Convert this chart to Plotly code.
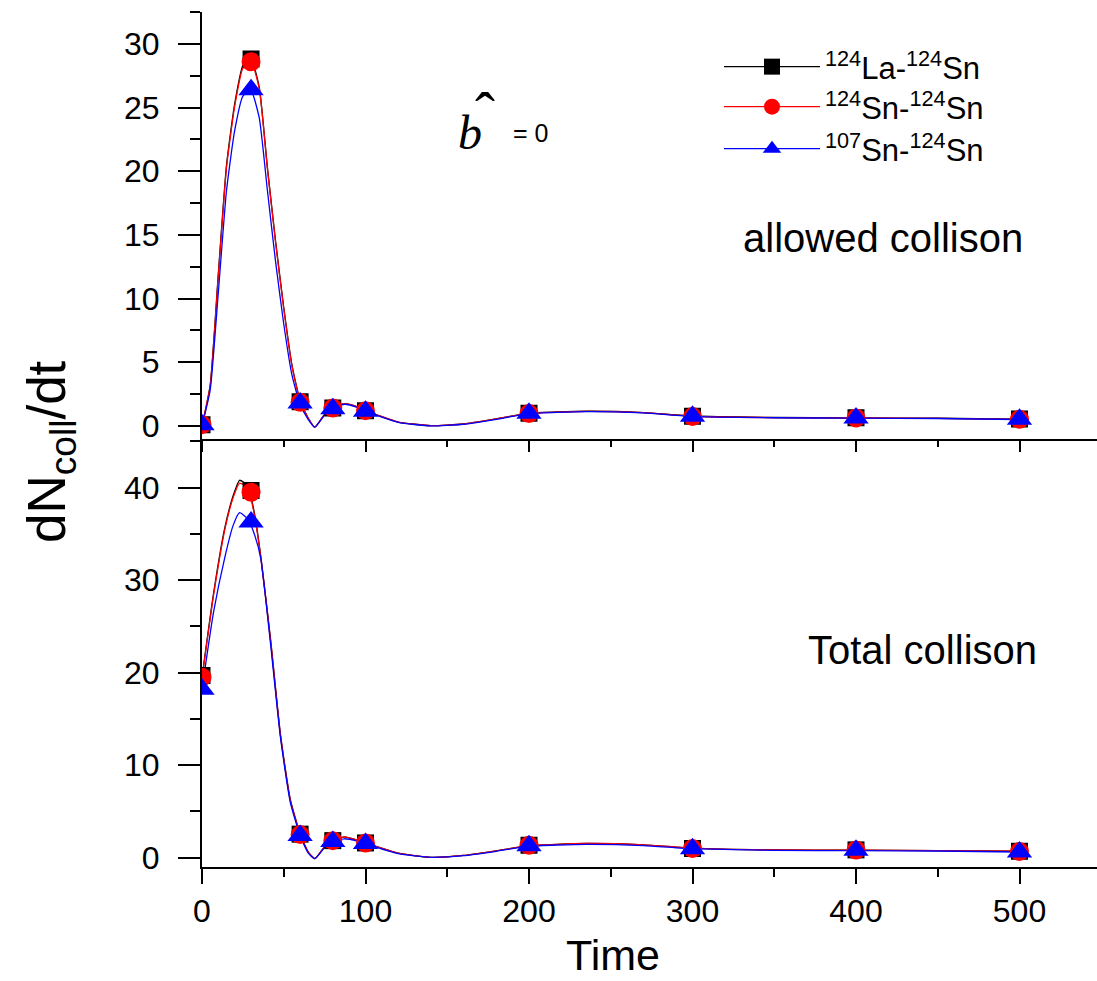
import plotly.graph_objects as go

# ---------------- data ----------------
marker_t = [0, 30, 60, 80, 100, 200, 300, 400, 500]

# allowed collision (top panel) - markers
top_la = [0.1, 28.8, 1.9, 1.4, 1.2, 1.0, 0.75, 0.65, 0.55]
top_sn124 = [0.1, 28.6, 1.85, 1.4, 1.2, 0.98, 0.73, 0.63, 0.53]
top_sn107 = [0.1, 26.4, 1.8, 1.35, 1.15, 1.0, 0.75, 0.63, 0.53]

# total collision (bottom panel) - markers
bot_la = [19.7, 39.7, 2.55, 1.85, 1.6, 1.35, 1.0, 0.85, 0.7]
bot_sn124 = [19.5, 39.5, 2.5, 1.85, 1.6, 1.35, 1.0, 0.83, 0.68]
bot_sn107 = [18.2, 36.3, 2.4, 1.75, 1.55, 1.3, 0.98, 0.8, 0.62]

# curves
curve_t_top = [0, 5, 10, 15, 20, 25, 30, 35, 40, 45, 50, 55, 60, 65, 69, 75, 80, 87, 95, 100,
               120, 140, 160, 180, 200, 235, 270, 300, 350, 400, 450, 500]
curve_top_la = [0, 3.2, 12.0, 20.5, 25.3, 28.3, 28.8, 26.6, 20.3, 14.5, 9.3, 4.8, 2.0, 0.6, -0.1,
                0.9, 1.4, 1.75, 1.5, 1.2, 0.3, 0.02, 0.15, 0.55, 1.0, 1.15, 1.05, 0.78, 0.66,
                0.63, 0.6, 0.52]
curve_top_sn124 = [0, 3.1, 11.8, 20.3, 25.1, 28.1, 28.6, 26.5, 20.2, 14.4, 9.2, 4.7, 1.95, 0.6,
                   -0.1, 0.9, 1.4, 1.75, 1.5, 1.2, 0.3, 0.02, 0.15, 0.55, 0.98, 1.14, 1.04,
                   0.76, 0.65, 0.62, 0.59, 0.51]
curve_top_sn107 = [0, 2.8, 10.5, 18.5, 23.2, 25.9, 26.3, 24.2, 18.5, 12.9, 8.0, 4.0, 1.7, 0.5,
                   -0.1, 0.85, 1.35, 1.7, 1.45, 1.15, 0.28, 0.0, 0.13, 0.52, 0.97, 1.12, 1.02,
                   0.75, 0.64, 0.61, 0.58, 0.5]

curve_t_bot = [0, 7, 14, 19, 23, 28, 32, 36, 42, 48, 54, 60, 65, 69, 75, 80, 87, 95, 100,
               120, 140, 160, 180, 200, 235, 270, 300, 350, 400, 450, 500]
curve_bot_la = [19.5, 28.5, 35.7, 39.1, 40.8, 40.2, 37.3, 32.5, 23.5, 13.3, 6.3, 2.6, 0.6, -0.1,
                1.2, 1.8, 2.25, 1.9, 1.6, 0.5, 0.05, 0.25, 0.75, 1.3, 1.55, 1.4, 1.05, 0.85,
                0.82, 0.78, 0.7]
curve_bot_sn124 = [19.4, 28.3, 35.5, 38.9, 40.5, 40.0, 37.1, 32.4, 23.4, 13.2, 6.2, 2.55, 0.6,
                   -0.1, 1.2, 1.8, 2.25, 1.9, 1.6, 0.5, 0.05, 0.25, 0.75, 1.3, 1.55, 1.4, 1.05,
                   0.85, 0.82, 0.78, 0.7]
curve_bot_sn107 = [18.2, 26.5, 32.5, 35.9, 37.3, 36.6, 35.0, 32.3, 23.0, 13.0, 6.0, 2.4, 0.5,
                   -0.1, 1.1, 1.7, 2.05, 1.8, 1.5, 0.45, 0.05, 0.22, 0.7, 1.25, 1.45, 1.32, 0.98,
                   0.8, 0.77, 0.73, 0.62]

names = ["<sup>124</sup>La-<sup>124</sup>Sn", "<sup>124</sup>Sn-<sup>124</sup>Sn",
         "<sup>107</sup>Sn-<sup>124</sup>Sn"]
x_ticks = [0, 100, 200, 300, 400, 500]
top_ticks = [0, 5, 10, 15, 20, 25, 30]
bot_ticks = [0, 10, 20, 30, 40]

# ---------------- styles ----------------
colors = ["#000000", "#ff0000", "#0000ff"]
symbols = ["square", "circle", "triangle-up"]
msizes = [17, 19, 22]
leg_sizes = [22, 25, 29]
leg_rows = [67, 107, 149]
FONT = "Liberation Sans, Arial, sans-serif"
SERIF = "Liberation Serif, Times New Roman, serif"

W, H = 1097, 981
ML, MR, MT, MB = 202, 0, 12, 114
PW, PH = W - ML - MR, H - MT - MB


def px(xp):
    return (xp - ML) / PW


def py(yp):
    return (H - MB - yp) / PH


fig = go.Figure()

curves_top = [curve_top_la, curve_top_sn124, curve_top_sn107]
curves_bot = [curve_bot_la, curve_bot_sn124, curve_bot_sn107]
marks_top = [top_la, top_sn124, top_sn107]
marks_bot = [bot_la, bot_sn124, bot_sn107]

for i in range(3):
    fig.add_trace(go.Scatter(x=curve_t_top, y=curves_top[i], mode="lines",
                             line=dict(color=colors[i], width=1.3, shape="spline", smoothing=0.5),
                             xaxis="x3", yaxis="y3", showlegend=False, hoverinfo="skip"))
    fig.add_trace(go.Scatter(x=curve_t_bot, y=curves_bot[i], mode="lines",
                             line=dict(color=colors[i], width=1.3, shape="spline", smoothing=0.5),
                             xaxis="x", yaxis="y", showlegend=False, hoverinfo="skip"))
for i in range(3):
    fig.add_trace(go.Scatter(x=marker_t, y=marks_top[i], mode="markers",
                             marker=dict(color=colors[i], symbol=symbols[i], size=msizes[i],
                                         line=dict(width=0)),
                             xaxis="x3", yaxis="y3", showlegend=False))
    fig.add_trace(go.Scatter(x=marker_t, y=marks_bot[i], mode="markers",
                             marker=dict(color=colors[i], symbol=symbols[i], size=msizes[i],
                                         line=dict(width=0)),
                             xaxis="x", yaxis="y", showlegend=False))
# legend entries (line + marker), one legend per row for exact placement
legend_keys = ["legend", "legend2", "legend3"]
for i in range(3):
    fig.add_trace(go.Scatter(x=[None], y=[None], mode="lines+markers", name=names[i],
                             line=dict(color=colors[i], width=1.3),
                             marker=dict(color=colors[i], symbol=symbols[i], size=leg_sizes[i],
                                         line=dict(width=0)),
                             xaxis="x3", yaxis="y3", legend=legend_keys[i]))

XR = [0, 547.4]
TOPR = [-1, 32.5]
BOTR = [-1, 45.3]
D = 0.501
tickfont = dict(family=FONT, size=32, color="black")

common = dict(showgrid=False, zeroline=False, linecolor="black", linewidth=2,
              tickcolor="black", tickwidth=2, fixedrange=True)

legend_common = dict(xanchor="left", yanchor="middle",
                     font=dict(family=FONT, size=31, color="black"),
                     bgcolor="rgba(0,0,0,0)", borderwidth=0, itemwidth=96)

fig.update_layout(
    width=W, height=H, template="none",
    paper_bgcolor="white", plot_bgcolor="white",
    margin=dict(l=ML, r=MR, t=MT, b=MB, pad=0),
    font=dict(family=FONT, color="black"),
    xaxis=dict(domain=[0, 1], anchor="y", range=XR, tickvals=x_ticks, ticks="outside",
               ticklen=15, showline=True, tickfont=tickfont, side="bottom",
               minor=dict(dtick=50, ticklen=8, ticks="outside", tickwidth=2, tickcolor="black",
                          showgrid=False),
               **common),
    xaxis2=dict(overlaying="x", anchor="y", side="top", range=XR, tickvals=x_ticks,
                ticks="outside", ticklen=11, showline=True, showticklabels=False,
                minor=dict(dtick=50, ticklen=6, ticks="outside", tickwidth=2, tickcolor="black",
                           showgrid=False),
                **common),
    xaxis3=dict(domain=[0, 1], anchor="y3", side="bottom", range=XR, tickvals=x_ticks,
                ticks="outside", ticklen=11, showline=True, showticklabels=False,
                minor=dict(dtick=50, ticklen=6, ticks="outside", tickwidth=2, tickcolor="black",
                           showgrid=False),
                **common),
    xaxis4=dict(overlaying="x3", anchor="y3", side="top", range=XR, tickvals=x_ticks,
                ticks="inside", ticklen=16, showline=True, showticklabels=False,
                minor=dict(dtick=50, ticklen=8, ticks="inside", tickwidth=2, tickcolor="black",
                           showgrid=False),
                **common),
    yaxis=dict(domain=[0, D], anchor="x", range=BOTR, tickvals=bot_ticks, ticks="outside",
               ticklen=22, showline=True, tickfont=tickfont, side="left",
               ticklabelstandoff=12,
               minor=dict(dtick=5, ticklen=10, ticks="outside", tickwidth=2, tickcolor="black",
                          showgrid=False),
               **common),
    yaxis2=dict(overlaying="y", anchor="x", side="right", range=BOTR, tickvals=bot_ticks,
                ticks="inside", ticklen=19, showline=False, showticklabels=False,
                minor=dict(dtick=5, ticklen=8, ticks="inside", tickwidth=2, tickcolor="black",
                           showgrid=False),
                **common),
    yaxis3=dict(domain=[D, 1], anchor="x3", range=TOPR, tickvals=top_ticks, ticks="outside",
                ticklen=22, showline=True, tickfont=tickfont, side="left",
                ticklabelstandoff=12,
                minor=dict(dtick=2.5, ticklen=10, ticks="outside", tickwidth=2,
                           tickcolor="black", showgrid=False),
                **common),
    yaxis4=dict(overlaying="y3", anchor="x3", side="right", range=TOPR, tickvals=top_ticks,
                ticks="inside", ticklen=19, showline=False, showticklabels=False,
                minor=dict(dtick=2.5, ticklen=8, ticks="inside", tickwidth=2,
                           tickcolor="black", showgrid=False),
                **common),
    legend=dict(x=px(719), y=py(leg_rows[0]), **legend_common),
    legend2=dict(x=px(719), y=py(leg_rows[1]), **legend_common),
    legend3=dict(x=px(719), y=py(leg_rows[2]), **legend_common),
    showlegend=True,
)

ann = [
    dict(text="dN<sub>coll</sub>/dt", x=px(50), y=py(452), textangle=-90,
         font=dict(family=FONT, size=53)),
    dict(text="Time", x=px(613), y=py(955), font=dict(family=FONT, size=43)),
    dict(text="allowed collison", x=px(883), y=py(238), font=dict(family=FONT, size=40)),
    dict(text="Total collison", x=px(922), y=py(650), font=dict(family=FONT, size=40)),
    dict(text="<i>b</i>", x=px(470), y=py(132), font=dict(family=SERIF, size=48)),
    dict(text="ˆ", x=px(485), y=py(113), font=dict(family=SERIF, size=60)),
    dict(text="= 0", x=px(530), y=py(133), font=dict(family=FONT, size=25)),
]
for a in ann:
    a.update(xref="paper", yref="paper", showarrow=False, xanchor="center", yanchor="middle")
fig.update_layout(annotations=ann)

fig.write_html("out.html", config={"displayModeBar": False},
               post_script="document.body.style.margin='0px';")
